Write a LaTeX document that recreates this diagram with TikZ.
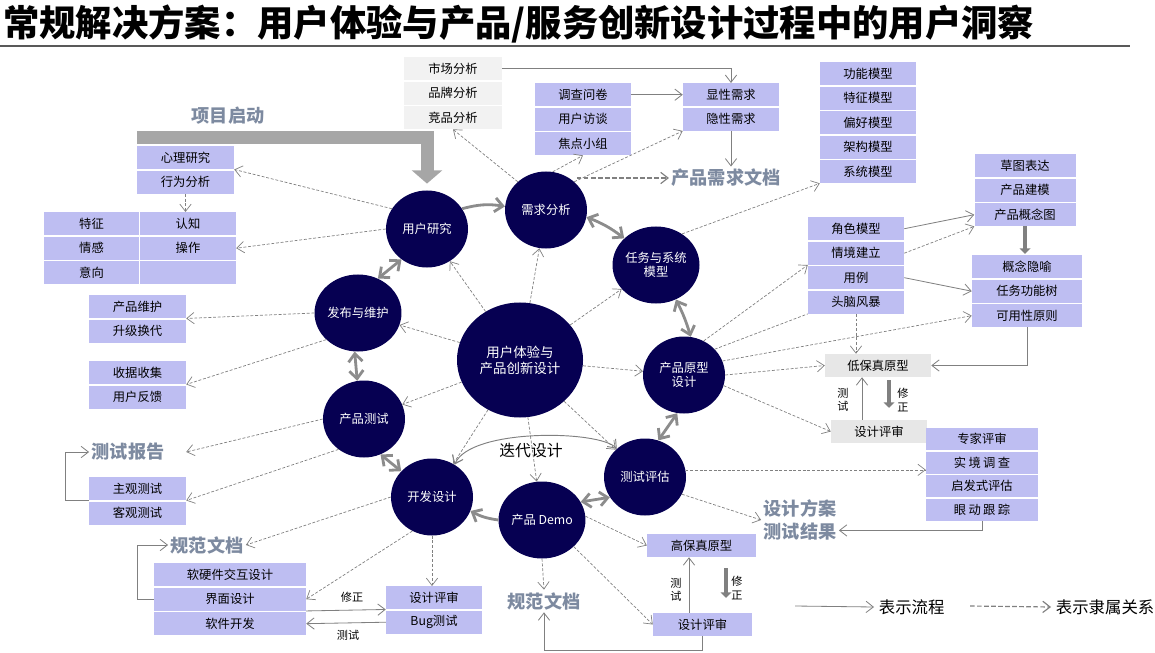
\documentclass[tikz,border=0pt]{standalone}
\usepackage{fontspec}
\setmainfont{Noto Sans CJK SC}
\usetikzlibrary{arrows.meta,positioning,calc,shapes.geometric}
\definecolor{navy}{RGB}{6,0,82}
\definecolor{lavbg}{RGB}{190,190,242}
\definecolor{greybg}{RGB}{242,242,242}
\definecolor{protobg}{RGB}{231,231,231}
\definecolor{linegray}{RGB}{128,128,128}
\definecolor{ringgray}{RGB}{140,140,140}
\definecolor{bargray}{RGB}{166,166,166}
\definecolor{docgray}{RGB}{125,138,160}
\newcommand{\boxfont}{\fontsize{10.5}{12}\selectfont}

\begin{document}
\begin{tikzpicture}[x=0.03cm,y=-0.03cm,
    rowbox/.style={minimum height=0.69cm,inner sep=0pt,font=\boxfont},
    lav/.style={rowbox,fill=lavbg,minimum width=#1}, lav/.default=2.88cm,
    gry/.style={rowbox,fill=greybg,minimum width=#1}, gry/.default=2.88cm,
    stage/.style={ellipse,fill=navy,text=white,inner sep=0pt,minimum width=2.46cm,
      minimum height=2.31cm,align=center,font=\boxfont},
    doc/.style={text=docgray,font=\bfseries\fontsize{15.5}{20}\selectfont,inner sep=2pt,align=left},
    lbl/.style={font=\fontsize{9.5}{11.5}\selectfont,inner sep=1pt,align=center},
    dep/.style={draw=linegray,line width=0.6pt,dash pattern=on 2.5pt off 1.5pt,
      -{Straight Barb[length=2.2mm,width=3.4mm]}},
    flow/.style={draw=linegray,line width=0.7pt,-{Straight Barb[length=2.2mm,width=3.4mm]}},
    ringarrow/.style={draw=ringgray,line width=2.4pt,
      {Straight Barb[length=2.4mm,width=4.2mm]}-{Straight Barb[length=2.4mm,width=4.2mm]}},
    ringone/.style={draw=ringgray,line width=2.4pt,-{Straight Barb[length=2.4mm,width=4.2mm]}},
    fixarrow/.style={draw=linegray,line width=2.6pt,-{Triangle[length=1.6mm,width=3.2mm]}}]
  \useasboundingbox (0,0) rectangle (1155,653);

  % title
  \node[anchor=west,inner sep=0pt,font=\bfseries\fontsize{31}{34}\selectfont] (title) at (3,24)
    {常规解决方案：用户体验与产品/服务创新设计过程中的用户洞察};
  \draw[draw=black!65,line width=1.2pt] (0,46) -- (1130,46);

  % stages
  \node[stage] (yhyj) at (427,229) {用户研究};
  \node[stage] (xqfx) at (546,210) {需求分析};
  \node[stage] (rwxt) at (656,265) {任务与系统\\模型};
  \node[stage] (fbwh) at (358,313) {发布与维护};
  \node[stage] (cpcs) at (364,419) {产品测试};
  \node[stage] (kfsj) at (432,497) {开发设计};
  \node[stage,minimum width=3.78cm,minimum height=3.45cm,font=\fontsize{11.5}{13.6}\selectfont]
    (core) at (520,360) {用户体验与\\产品创新设计};
  \node[stage] (cpyx) at (684,375) {产品原型\\设计};
  \node[stage] (csgj) at (645,477) {测试评估};
  \node[stage] (demo) at (542,520) {产品 Demo};

  % market / survey / needs
  \node[gry=2.94cm,anchor=north] (scfx) at (453,57) {市场分析};
  \node[gry=2.94cm,below=0.03cm of scfx] (ppfx) {品牌分析};
  \node[gry=2.94cm,below=0.03cm of ppfx] (jpfx) {竞品分析};
  \node[lav,anchor=north] (dcwj) at (583,83) {调查问卷};
  \node[lav,below=0.03cm of dcwj] (yhft) {用户访谈};
  \node[lav,below=0.03cm of yhft] (jdxz) {焦点小组};
  \node[lav,anchor=north] (xxxq) at (731,83) {显性需求};
  \node[lav,below=0.03cm of xxxq] (yxxq) {隐性需求};
  \node[doc] (xqwd) at (726,178) {产品需求文档};

  % models
  \node[lav,anchor=north] (gnmx) at (868,62) {功能模型};
  \node[lav,below=0.03cm of gnmx] (tzmx) {特征模型};
  \node[lav,below=0.03cm of tzmx] (phmx) {偏好模型};
  \node[lav,below=0.03cm of phmx] (jgmx) {架构模型};
  \node[lav,below=0.03cm of jgmx] (xtmx) {系统模型};
  \node[lav=3.03cm,anchor=north] (ctbd) at (1025,154) {草图表达};
  \node[lav=3.03cm,below=0.03cm of ctbd] (cpjm) {产品建模};
  \node[lav=3.03cm,below=0.03cm of cpjm] (cpgnt) {产品概念图};
  \node[lav=3.3cm,anchor=north] (gnyy) at (1027,255) {概念隐喻};
  \node[lav=3.3cm,below=0.03cm of gnyy] (rwgns) {任务功能树};
  \node[lav=3.3cm,below=0.03cm of rwgns] (kyx) {可用性原则};
  \node[lav,anchor=north] (jsmx) at (856,217) {角色模型};
  \node[lav,below=0.03cm of jsmx] (qjjl) {情境建立};
  \node[lav,below=0.03cm of qjjl] (yl) {用例};
  \node[lav,below=0.03cm of yl] (tnfb) {头脑风暴};

  % prototypes and reviews
  \node[rowbox,fill=protobg,minimum width=3.18cm] (dbz) at (878,365.5) {低保真原型};
  \node[rowbox,fill=protobg,minimum width=2.88cm] (psA) at (879,431.5) {设计评审};
  \node[lav=3.36cm,minimum height=0.66cm,anchor=north] (zjps) at (982,428) {专家评审};
  \node[lav=3.36cm,minimum height=0.66cm,below=0.03cm of zjps] (sjdc) {实\kern2pt 境\kern2pt 调\kern2pt 查};
  \node[lav=3.36cm,minimum height=0.66cm,below=0.03cm of sjdc] (qfs) {启发式评估};
  \node[lav=3.36cm,minimum height=0.66cm,below=0.03cm of qfs] (ydgz) {眼\kern2pt 动\kern2pt 跟\kern2pt 踪};
  \node[doc] (sjfa) at (800,520) {设计方案\\测试结果};
  \node[lav=3.27cm] (gbz) at (701.5,545.5) {高保真原型};
  \node[lav=2.97cm] (psB) at (702.5,624.5) {设计评审};
  \node[doc] (gfwdB) at (544,601) {规范文档};
  \node[lav,anchor=north] (psC) at (434,586) {设计评审};
  \node[lav,below=0.03cm of psC] (bug) {Bug测试};

  % left side
  \node[lav=4.56cm,anchor=north] (rygj) at (230,563) {软硬件交互设计};
  \node[lav=4.56cm,below=0.03cm of rygj] (jmsj) {界面设计};
  \node[lav=4.56cm,below=0.03cm of jmsj] (rjkf) {软件开发};
  \node[doc] (gfwdA) at (207,545) {规范文档};
  \node[doc] (csbg) at (128,452) {测试报告};
  \node[lav=2.91cm,anchor=north] (zgcs) at (137.5,477) {主观测试};
  \node[lav=2.91cm,below=0.03cm of zgcs] (kgcs) {客观测试};
  \node[lav=2.91cm,anchor=north] (sjsj) at (137.5,361) {收据收集};
  \node[lav=2.91cm,below=0.03cm of sjsj] (yhfk) {用户反馈};
  \node[lav=2.91cm,anchor=north] (cpwh) at (137.5,295) {产品维护};
  \node[lav=2.91cm,below=0.03cm of cpwh] (sjhd) {升级换代};
  \node[lav=2.85cm,anchor=north] (tz) at (91.5,212) {特征};
  \node[lav=2.85cm,below=0.03cm of tz] (qg) {情感};
  \node[lav=2.85cm,below=0.03cm of qg] (yx) {意向};
  \node[lav,anchor=north] (rz) at (188,212) {认知};
  \node[lav,below=0.03cm of rz] (cz) {操作};
  \node[lav,below=0.03cm of cz] (kong) {};
  \node[lav=2.91cm,anchor=north] (xlyj) at (185.5,146) {心理研究};
  \node[lav=2.91cm,below=0.03cm of xlyj] (xwfx) {行为分析};
  \node[doc] (xmqd) at (228,116) {项目启动};

  % small labels
  \node[font=\fontsize{13.5}{15}\selectfont] (ddsj) at (531,451) {迭代设计};
  \node[lbl] (csA) at (843,400) {测\\试};
  \node[lbl] (xzA) at (903,400) {修\\正};
  \node[lbl] (csB) at (676,590) {测\\试};
  \node[lbl] (xzB) at (737,588) {修\\正};
  \node[lbl] (xzC) at (352,597) {修正};
  \node[lbl] (csC) at (348,635) {测试};

  % legend
  \node[anchor=west,inner sep=4pt,font=\fontsize{14}{16}\selectfont] (lgflow) at (874,607) {表示流程};
  \node[anchor=west,inner sep=4pt,font=\fontsize{14}{16}\selectfont] (lgdep) at (1051,607) {表示隶属关系};
  \coordinate (lgA) at (795,606);
  \coordinate (lgB) at (970,606);
  \draw[flow] (lgA) -- (lgflow.west);
  \draw[dep,line width=1pt,dash pattern=on 4pt off 2pt] (lgB) -- (lgdep.west);

  % project start
  \draw[draw=bargray,line width=0.39cm,-{Triangle[length=0.4cm,width=0.9cm]}]
    ([yshift=0.24cm]xlyj.north west) -| ([yshift=0.2cm]yhyj.north);

  % ring
  \draw[ringone] (yhyj.30) to[bend left=12] (xqfx.175);
  \draw[ringarrow] (xqfx.-10) to[bend left=8] (rwxt.140);
  \draw[ringarrow] (rwxt.-60) to[bend left=5] (cpyx.80);
  \draw[ringarrow] (cpyx.-100) -- (csgj.70);
  \draw[ringarrow] (csgj.210) -- (demo.25);
  \draw[ringone] (demo.180) to[bend left=10] (kfsj.-20);
  \draw[ringarrow] (kfsj.140) -- (cpcs.-65);
  \draw[ringarrow] (cpcs.100) -- (fbwh.-95);
  \draw[ringarrow] (fbwh.60) -- (yhyj.-130);
  \draw[draw=linegray,line width=0.8pt,
    {Straight Barb[length=2.2mm,width=3.4mm]}-{Straight Barb[length=2.2mm,width=3.4mm]}]
    (kfsj.55) .. controls (470,428) and (600,430) .. (csgj.135);

  % from the core
  \draw[dep] (core) -- (yhyj);
  \draw[dep] (core) -- (xqfx);
  \draw[dep] (core) -- (rwxt);
  \draw[dep] (core) -- (cpyx);
  \draw[dep] (core) -- (csgj);
  \draw[dep] (core) -- (demo);
  \draw[dep] (core) -- (kfsj);
  \draw[dep] (core) -- (cpcs);
  \draw[dep] (core) -- (fbwh);

  % user research, needs
  \draw[dep] (yhyj.150) -- (xlyj.south east);
  \draw[dep] (yhyj.180) -- (cz.east);
  \draw[dep] (xwfx.south) -- (xwfx.south |- rz.north);
  \draw[dep] (xqfx.135) -- (jpfx.south);
  \draw[dep] (xqfx.80) -- (jdxz.south);
  \draw[dep] (xqfx.45) -- (yxxq.south west);
  \draw[dep,line width=1pt,dash pattern=on 4pt off 2pt] (xqfx.40 |- xqwd.west) -- (xqwd.west);
  \draw[flow] (scfx.east) -| (xxxq.north);
  \draw[flow] (dcwj.east) -- (xxxq.west);
  \draw[flow] (yxxq.south) -- (yxxq.south |- xqwd.north);

  % models, prototypes
  \draw[dep] (rwxt.50) -- (xtmx.south west);
  \draw[dep] (cpyx.60) -- (qjjl.south west);
  \draw[dep,-] (cpyx.40) -- (tnfb.south west);
  \draw[dep] (cpyx.20) -- (kyx.west);
  \draw[dep] (cpyx.east) -- (dbz.west);
  \draw[dep] (cpyx.-15) -- (psA.west);
  \draw[dep] (tnfb.south) -- (tnfb.south |- dbz.north);
  \draw[flow] (jsmx.east) -- (cpgnt.west);
  \draw[dep] (qjjl.east) -- (cpgnt.south west);
  \draw[flow] (yl.east) -- (rwgns.west);
  \draw[fixarrow,shorten >=1pt] (cpgnt.south) -- (cpgnt.south |- gnyy.north);
  \draw[flow] (kyx.south) |- (dbz.east);
  \draw[flow] ($(psA.north)+(-17,0)$) -- ($(dbz.south)+(-16,0)$);
  \draw[fixarrow] ($(dbz.south)+(11,3)$) -- ($(psA.north)+(10,-12)$);

  % evaluation, demo
  \draw[dep] (csgj.10) -- (csgj.10 -| sjdc.west);
  \draw[dep] (csgj.-25) -- (sjfa.west);
  \draw[flow] (ydgz.south) |- (sjfa.-15);
  \draw[dep] (demo.5) -- (gbz.west);
  \draw[dep] (demo.-40) -- (psB.west);
  \draw[dep] (demo.south) -- (gfwdB.north);
  \draw[flow] ($(psB.north)+(-13.5,0)$) -- ($(gbz.south)+(-12.5,0)$);
  \draw[fixarrow] ($(gbz.south)+(24.5,11)$) -- ($(psB.north)+(23.5,-15)$);
  \draw[flow] (psB.south) -- ++(0,14) -| (gfwdB.south);

  % development, testing, release
  \draw[dep] (kfsj.south) -- (kfsj.south |- psC.north);
  \draw[dep] (kfsj.240) -- (jmsj.east);
  \draw[dep] (kfsj.west) -- (gfwdA.east);
  \draw[flow] (jmsj.south east) -- (psC.south west);
  \draw[flow] (bug.west) -- (rjkf.east);
  \draw[flow] (jmsj.west) -- ++(-16,0) |- (gfwdA.west);
  \draw[dep] (cpcs.west) -- (zgcs.east |- csbg.east);
  \draw[dep] (cpcs.230) -- (zgcs.south east);
  \draw[flow] (zgcs.south west) -- ++(-23,0) |- (csbg.west);
  \draw[dep] (fbwh.west) -- (cpwh.south east);
  \draw[dep] (fbwh.220) -- (sjsj.south east);
\end{tikzpicture}
\end{document}
